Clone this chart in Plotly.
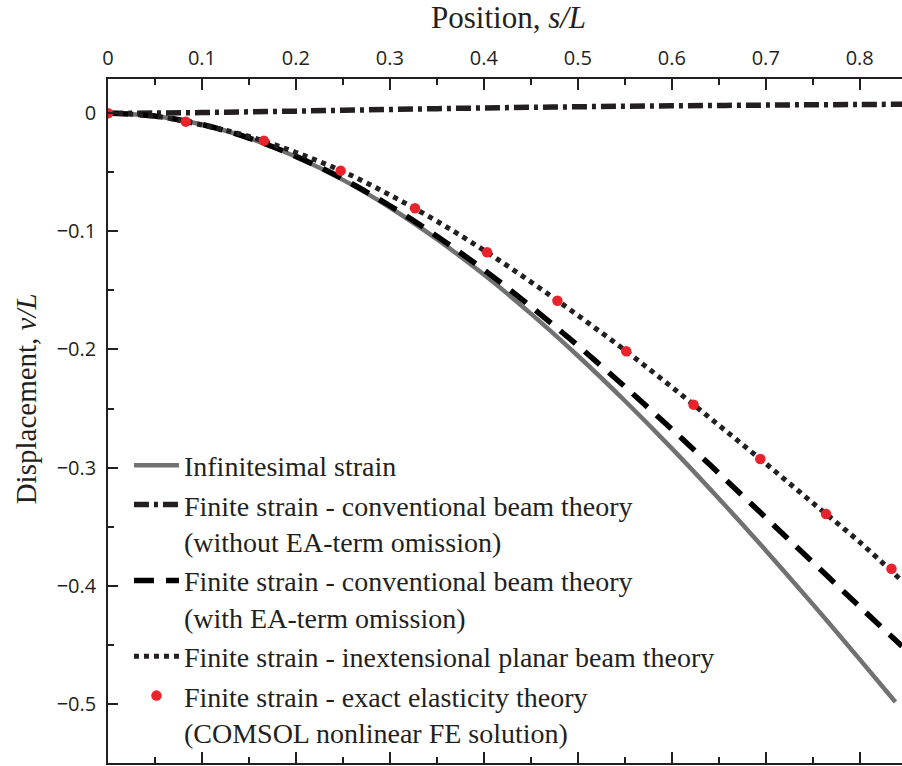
import plotly.graph_objects as go

# ---- data ----
s_inf = [0.0, 0.05, 0.10, 0.15, 0.20, 0.25, 0.30, 0.35, 0.40, 0.45, 0.50,
         0.55, 0.60, 0.65, 0.70, 0.75, 0.80, 0.838]
v_inf = [0.0, -0.0024, -0.0095, -0.0211, -0.0368, -0.0564, -0.0798, -0.1066,
         -0.1366, -0.1696, -0.2053, -0.2434, -0.2837, -0.3261, -0.3701,
         -0.4156, -0.4624, -0.4985]

s_fin = [0.0, 0.05, 0.10, 0.15, 0.20, 0.25, 0.30, 0.35, 0.40, 0.45, 0.50,
         0.55, 0.60, 0.65, 0.70, 0.75, 0.80, 0.845]
v_conv_without = [0.0, 0.0002, 0.0006, 0.0012, 0.0018, 0.0025, 0.0032, 0.0039,
                  0.0045, 0.0050, 0.0055, 0.0059, 0.0063, 0.0066, 0.0069,
                  0.0072, 0.0074, 0.0076]
v_conv_with = [0.0, -0.0024, -0.0095, -0.0210, -0.0365, -0.0556, -0.0783,
               -0.1041, -0.1325, -0.1636, -0.1967, -0.2315, -0.2675, -0.3047,
               -0.3423, -0.3801, -0.4178, -0.4513]
v_inext = [0.0, -0.0025, -0.0100, -0.0196, -0.0332, -0.0493, -0.0692, -0.0914,
           -0.1160, -0.1428, -0.1711, -0.2006, -0.2318, -0.2641, -0.2966,
           -0.3299, -0.3631, -0.3960]

s_fe = [0.0, 0.0828, 0.1659, 0.2476, 0.3267, 0.4034, 0.4783, 0.5515, 0.6232,
        0.6942, 0.7642, 0.8338]
v_fe = [0.0, -0.0071, -0.0232, -0.0486, -0.0804, -0.1177, -0.1587, -0.2015,
        -0.2467, -0.2927, -0.3393, -0.3856]

x_ticks = [0, 0.1, 0.2, 0.3, 0.4, 0.5, 0.6, 0.7, 0.8]
y_ticks = [0, -0.1, -0.2, -0.3, -0.4, -0.5]

names = [
    "Infinitesimal strain",
    "Finite strain - conventional beam theory<br>(without EA-term omission)",
    "Finite strain - conventional beam theory<br>(with EA-term omission)",
    "Finite strain - inextensional planar beam theory",
    "Finite strain - exact elasticity theory<br>(COMSOL nonlinear FE solution)",
]

BLACK = "#231f20"
SERIF = "Liberation Serif"
SANS = "Open Sans"

fig = go.Figure()
fig.add_trace(go.Scatter(x=s_inf, y=v_inf, mode="lines", name=names[0],
                         line=dict(color="#707173", width=4.5, shape="spline")))
fig.add_trace(go.Scatter(x=s_fin, y=v_conv_without, mode="lines", name=names[1],
                         line=dict(color=BLACK, width=5.5, shape="spline",
                                   dash="15px,5px,4px,5px")))
fig.add_trace(go.Scatter(x=s_fin, y=v_conv_with, mode="lines", name=names[2],
                         line=dict(color="#000000", width=5.5, shape="spline",
                                   dash="20px,12px")))
fig.add_trace(go.Scatter(x=s_fin, y=v_inext, mode="lines", name=names[3],
                         line=dict(color=BLACK, width=5, shape="spline",
                                   dash="5px,5px")))
fig.add_trace(go.Scatter(x=s_fe, y=v_fe, mode="markers", name=names[4],
                         marker=dict(color="#e8232b", size=10.5,
                                     line=dict(width=0))))

axis_common = dict(
    showgrid=False, zeroline=False, showline=True, linecolor=BLACK,
    linewidth=1.5, ticks="inside", tickcolor=BLACK, tickwidth=1.5,
    automargin=False,
    tickfont=dict(family=SANS, size=20, color=BLACK),
)

fig.update_xaxes(
    **axis_common, side="top", range=[0, 0.845], tickvals=x_ticks,
    ticklen=11, mirror="ticks", ticklabelstandoff=4,
    minor=dict(ticks="inside", ticklen=6, dtick=0.05, tickcolor=BLACK,
               tickwidth=1.5),
)
fig.update_yaxes(
    **axis_common, range=[-0.5501, 0.029], tickvals=y_ticks,
    ticklen=10, ticklabelstandoff=6,
    minor=dict(ticks="inside", ticklen=6, dtick=0.05, tickcolor=BLACK,
               tickwidth=1.5),
)

fig.add_annotation(text="Position, <i>s/L</i>", xref="paper", yref="paper",
                   x=0.5044, y=1.0899, xanchor="center", yanchor="middle",
                   showarrow=False,
                   font=dict(family=SERIF, size=31, color=BLACK))
fig.add_annotation(text="Displacement, <i>v/L</i>", xref="paper", yref="paper",
                   x=-0.103, y=0.532, xanchor="center", yanchor="middle",
                   textangle=-90, showarrow=False,
                   font=dict(family=SERIF, size=29, color=BLACK))

fig.update_layout(
    width=902, height=766,
    margin=dict(l=108, r=0, t=79, b=3),
    paper_bgcolor="white", plot_bgcolor="white",
    showlegend=True,
    legend=dict(x=0.0264, y=0.4715, xanchor="left", yanchor="top",
                bgcolor="rgba(0,0,0,0)", borderwidth=0,
                font=dict(family=SERIF, size=28, color=BLACK),
                valign="top", itemwidth=45, tracegroupgap=0,
                itemclick=False),
)

# remove the browser's default 8px page margin so the figure fills the window
fig.write_html("out.html",
               config={"displayModeBar": False},
               post_script="document.body.style.margin='0px';"
                           "document.body.style.overflow='hidden';")
